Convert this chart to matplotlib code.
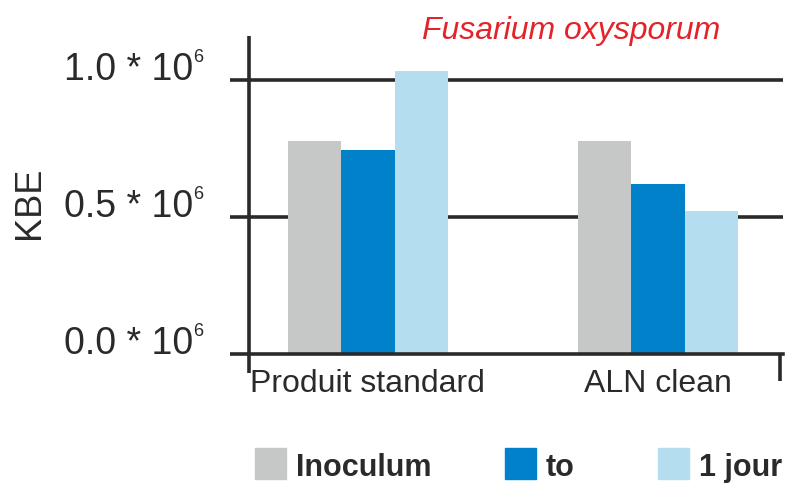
import matplotlib
matplotlib.use("Agg")
import numpy as np
import matplotlib.pyplot as plt
from matplotlib.patches import Rectangle

plt.rcParams["font.family"] = ["Liberation Sans", "DejaVu Sans"]

# values in units of 10^6 KBE
CATEGORIES = ["Produit standard", "ALN clean"]
SERIES = ["Inoculum", "to", "1 jour"]
INOCULUM = [0.777, 0.777]
T0 = [0.745, 0.620]
JOUR1 = [1.033, 0.522]
Y_TICKS = [0.0, 0.5, 1.0]
Y_TICK_LABELS = ["0.0 * 10", "0.5 * 10", "1.0 * 10"]

COLORS = ["#c6c7c7", "#0081c9", "#b4def0"]
DARK = "#2b2a29"
W, H = 785, 483

fig = plt.figure(figsize=(W / 100, H / 100), dpi=100)
ax = fig.add_axes([249 / W, 129 / H, 534 / W, (354 - 36) / H])

x = np.arange(len(CATEGORIES))
width = 0.184
for i, (vals, col) in enumerate(zip([INOCULUM, T0, JOUR1], COLORS)):
    ax.bar(x + (i - 1) * width, vals, width, color=col, zorder=1)

ax.set_xlim(-0.410, 1.431)
ax.set_ylim(0, 1.16)

lw = 2.6
for s in ["top", "right", "left"]:
    ax.spines[s].set_visible(False)
ax.spines["bottom"].set_linewidth(lw)
ax.spines["bottom"].set_color(DARK)
ax.spines["bottom"].set_zorder(3)

# left axis line, running a bit below the baseline
ax.plot([0, 0], [-0.06, 1.0], transform=ax.transAxes, color=DARK, lw=lw,
        clip_on=False, solid_capstyle="butt", zorder=3)
# small end tick at the right
ax.plot([0.995, 0.995], [-0.085, 0.0], transform=ax.transAxes, color=DARK, lw=lw,
        clip_on=False, solid_capstyle="butt", zorder=3)

ax.set_yticks(Y_TICKS)
ax.set_yticklabels([])
ax.tick_params(axis="y", length=14, width=lw, color=DARK, direction="out")
for t in Y_TICKS[1:]:
    ax.axhline(t, color=DARK, lw=lw, zorder=0)

ytr = ax.get_yaxis_transform()
for t, lab in zip(Y_TICKS, Y_TICK_LABELS):
    ax.text(-0.105, t, lab, transform=ytr, ha="right", va="baseline",
            fontsize=27, color=DARK)
    ax.text(-0.104, t + 0.066, "6", transform=ytr, ha="left", va="baseline",
            fontsize=13, color=DARK)

ax.set_xticks(x)
ax.set_xticklabels(CATEGORIES, fontsize=23, color=DARK)
ax.tick_params(axis="x", length=0, pad=11)

fig.text(30 / W, 1 - 203 / H, "KBE", rotation=90, ha="center", va="center",
         fontsize=26, color=DARK)
fig.text(571 / W, 1 - 39 / H, "Fusarium oxysporum", ha="center", va="baseline",
         fontsize=23, style="italic", color="#e2232a")

# legend
legend_x = [255, 505, 658]
for name, col, lx in zip(SERIES, COLORS, legend_x):
    fig.patches.append(Rectangle((lx / W, 4 / H), 31 / W, 31 / H, color=col,
                                 transform=fig.transFigure))
    fig.text((lx + 41) / W, 7 / H, name, ha="left", va="baseline",
             fontsize=22, fontweight="bold", color=DARK)

fig.savefig("out.png", dpi=100)
